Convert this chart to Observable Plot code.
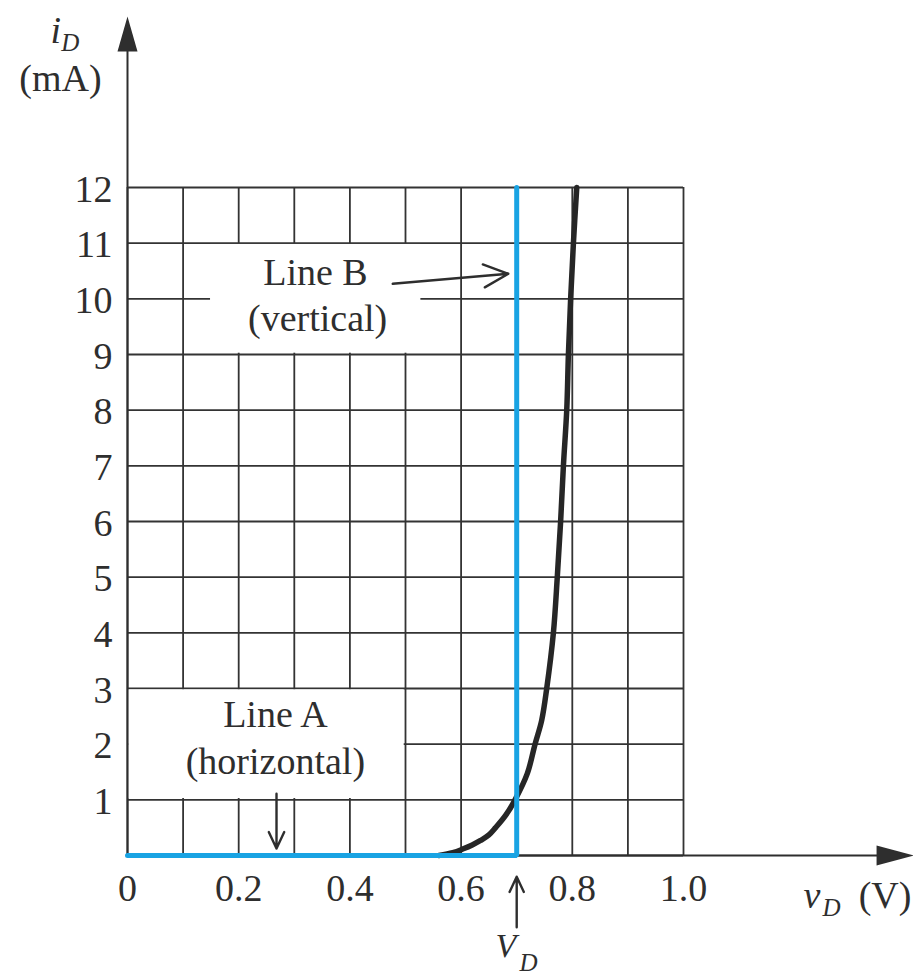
<!DOCTYPE html>
<html>
<head>
<meta charset="utf-8">
<script src="https://cdn.jsdelivr.net/npm/d3@7"></script>
<script src="https://cdn.jsdelivr.net/npm/@observablehq/plot@0.6"></script>
<style>
  html, body { margin: 0; padding: 0; background: #fff; }
  #chart svg { display: block; }
</style>
</head>
<body>
<div id="chart"></div>
<script>
// ---- Data ----
// Diode characteristic i_D (mA) vs v_D (V)
const vD = [0.56, 0.585, 0.604, 0.62, 0.635, 0.65, 0.662, 0.68, 0.697, 0.719, 0.733, 0.745, 0.754, 0.766, 0.773, 0.779, 0.784, 0.790, 0.793, 0.797, 0.802, 0.808];
const iD = [0, 0.05, 0.12, 0.19, 0.27, 0.37, 0.5, 0.72, 1.0, 1.47, 2.0, 2.43, 3.0, 4, 5, 6, 7, 8, 9, 10, 11, 12];

// Piecewise-linear model: Line A (horizontal) then Line B (vertical) at V_D
const VD = 0.7;
const modelV = [0, VD, VD];
const modelI = [0, 0, 12];

// Grid and ticks
const gridX = [0, 0.1, 0.2, 0.3, 0.4, 0.5, 0.6, 0.7, 0.8, 0.9, 1.0];
const gridY = [0, 1, 2, 3, 4, 5, 6, 7, 8, 9, 10, 11, 12];
const xTickValues = [0, 0.2, 0.4, 0.6, 0.8, 1.0];
const xTickLabels = ["0", "0.2", "0.4", "0.6", "0.8", "1.0"];
const yTickValues = [1, 2, 3, 4, 5, 6, 7, 8, 9, 10, 11, 12];
const yTickLabels = ["1", "2", "3", "4", "5", "6", "7", "8", "9", "10", "11", "12"];

// Annotations (data coordinates)
const labelBoxes = [
  {x1: 0, x2: 0.5, y1: 1, y2: 3},
  {x1: 0.147, x2: 0.53, y1: 9, y2: 11}
];
const labelTexts = [
  {x: 0.338, y: 10.24, text: "Line B"},
  {x: 0.342, y: 9.43, text: "(vertical)"},
  {x: 0.266, y: 2.30, text: "Line A"},
  {x: 0.266, y: 1.47, text: "(horizontal)"}
];
const pointers = [
  {x1: 0.477, y1: 10.27, x2: 0.685, y2: 10.45},
  {x1: 0.268, y1: 1.11, x2: 0.268, y2: 0.125},
  {x1: VD, y1: -1.29, x2: VD, y2: -0.38}
];

// Axis extents beyond the grid (arrowed axes)
const yAxisTop = 14.46;
const xAxisEnd = 1.349;

const ink = "#2e2e2e";
const serif = "Liberation Serif, Times New Roman, serif";

const arrowUp = {draw(ctx) { ctx.moveTo(0, -34); ctx.lineTo(10, 1); ctx.lineTo(-10, 1); ctx.closePath(); }};
const arrowRight = {draw(ctx) { ctx.moveTo(36, 0); ctx.lineTo(-1, 10); ctx.lineTo(-1, -10); ctx.closePath(); }};

const curve = vD.map((v, k) => ({v, i: iD[k]}));
const model = modelV.map((v, k) => ({v, i: modelI[k]}));

const chart = Plot.plot({
  width: 913,
  height: 976,
  marginLeft: 127,
  marginRight: 230,
  marginTop: 187,
  marginBottom: 121,
  x: {domain: [0, 1], axis: null},
  y: {domain: [0, 12], axis: null},
  style: {background: "#fff", overflow: "visible"},
  marks: [
    // grid
    Plot.ruleX(gridX, {x: d => d, y1: 0, y2: 12, stroke: "#333", strokeWidth: 1.8}),
    Plot.ruleY(gridY, {y: d => d, x1: 0, x2: 1, stroke: "#333", strokeWidth: 1.8}),
    // white backgrounds behind the labels
    Plot.rect(labelBoxes, {x1: "x1", x2: "x2", y1: "y1", y2: "y2", fill: "#fff", inset: 1.3}),
    // axes with arrowheads
    Plot.ruleX([0], {y1: 0, y2: yAxisTop, stroke: ink, strokeWidth: 2}),
    Plot.ruleY([0], {x1: 0, x2: xAxisEnd, stroke: ink, strokeWidth: 2}),
    Plot.dot([0], {x: 0, y: yAxisTop, symbol: arrowUp, fill: ink, stroke: "none"}),
    Plot.dot([0], {x: xAxisEnd, y: 0, symbol: arrowRight, fill: ink, stroke: "none"}),
    // diode curve
    Plot.line(curve, {x: "v", y: "i", stroke: "#262626", strokeWidth: 5.5, curve: "catmull-rom"}),
    // Lines A and B
    Plot.line(model, {x: "v", y: "i", stroke: "#19a3e3", strokeWidth: 5, strokeLinejoin: "miter"}),
    // pointer arrows
    Plot.arrow(pointers, {x1: "x1", y1: "y1", x2: "x2", y2: "y2", stroke: ink, strokeWidth: 2.4, headLength: 17, headAngle: 50}),
    // labels
    Plot.text(labelTexts, {x: "x", y: "y", text: "text", fontFamily: serif, fontSize: 38, fill: ink, textAnchor: "middle", lineAnchor: "bottom"}),
    // tick labels
    Plot.text(xTickValues, {x: d => d, y: 0, text: (d, k) => xTickLabels[k], dy: 45, fontFamily: serif, fontSize: 38, fill: ink, textAnchor: "middle", lineAnchor: "bottom"}),
    Plot.text(yTickValues, {x: 0, y: d => d, text: (d, k) => yTickLabels[k], dx: -15, dy: 2, fontFamily: serif, fontSize: 38, fill: ink, textAnchor: "end", lineAnchor: "middle"}),
    // axis titles
    Plot.text(["i"], {x: -0.1385, y: 14.6, text: d => d, fontFamily: serif, fontStyle: "italic", fontSize: 38, fill: ink, textAnchor: "start", lineAnchor: "bottom"}),
    Plot.text(["D"], {x: -0.119, y: 14.46, text: d => d, fontFamily: serif, fontStyle: "italic", fontSize: 25, fill: ink, textAnchor: "start", lineAnchor: "bottom"}),
    Plot.text(["(mA)"], {x: -0.1205, y: 13.74, text: d => d, fontFamily: serif, fontSize: 38, fill: ink, textAnchor: "middle", lineAnchor: "bottom"}),
    Plot.text(["v"], {x: 1.216, y: -0.94, text: d => d, fontFamily: serif, fontStyle: "italic", fontSize: 38, fill: ink, textAnchor: "start", lineAnchor: "bottom"}),
    Plot.text(["D"], {x: 1.250, y: -1.08, text: d => d, fontFamily: serif, fontStyle: "italic", fontSize: 25, fill: ink, textAnchor: "start", lineAnchor: "bottom"}),
    Plot.text(["(V)"], {x: 1.315, y: -0.94, text: d => d, fontFamily: serif, fontSize: 38, fill: ink, textAnchor: "start", lineAnchor: "bottom"}),
    Plot.text(["V"], {x: 0.662, y: -1.83, text: d => d, fontFamily: serif, fontStyle: "italic", fontSize: 34, fill: ink, textAnchor: "start", lineAnchor: "bottom"}),
    Plot.text(["D"], {x: 0.705, y: -2.07, text: d => d, fontFamily: serif, fontStyle: "italic", fontSize: 25, fill: ink, textAnchor: "start", lineAnchor: "bottom"})
  ]
});

document.getElementById("chart").appendChild(chart);
</script>
</body>
</html>
